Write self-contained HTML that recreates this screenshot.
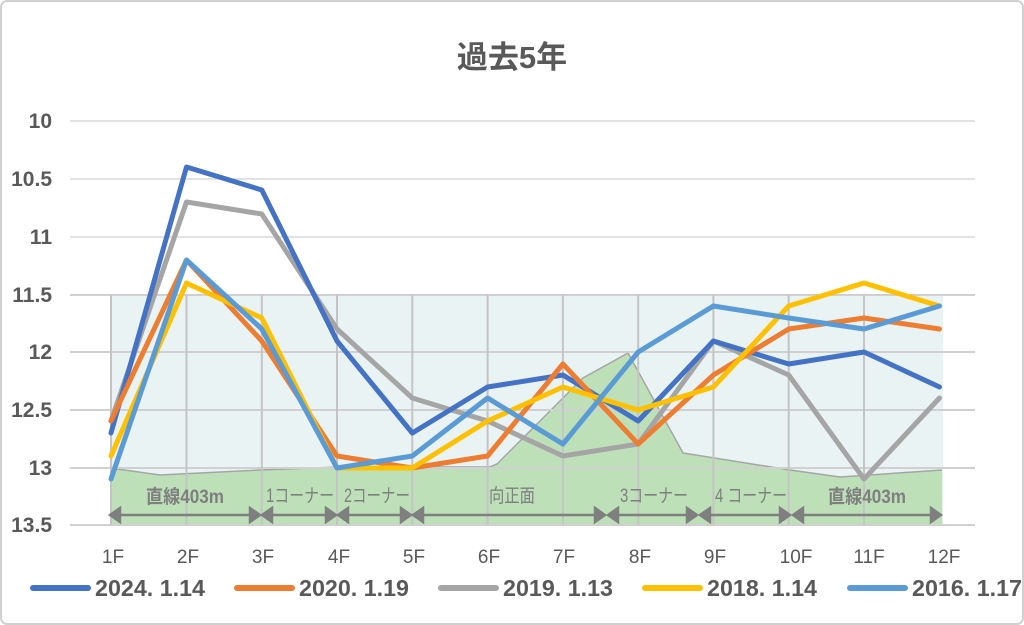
<!DOCTYPE html>
<html><head><meta charset="utf-8"><style>
html,body{margin:0;padding:0;background:#fff}
svg{display:block;font-family:"Liberation Sans","Noto Sans CJK JP",sans-serif}
</style></head><body>
<svg width="1024" height="625" viewBox="0 0 1024 625">
<rect x="1" y="1" width="1022" height="623" rx="6" fill="#fff" stroke="#d0d0d0" stroke-width="2"/>
<text x="512" y="68" text-anchor="middle" font-size="31" font-weight="bold" fill="#595959">過去5年</text>
<g stroke="#d9d9d9" stroke-width="1.5">
<line x1="70" y1="121" x2="975" y2="121"/>
<line x1="70" y1="179" x2="975" y2="179"/>
<line x1="70" y1="237" x2="975" y2="237"/>
</g>
<rect x="110" y="295" width="833" height="230" fill="#e9f3f3"/>
<polygon points="110,468 160,475 260,470 340,467 490,467 497,464 583,378 628,353 683,453 790,470 840,477 942,470 942,525 110,525" fill="#bde0b9"/>
<polyline points="110,468 160,475 260,470 340,467 490,467 497,464 583,378 628,353 683,453 790,470 840,477 942,470" fill="none" stroke="#a5a5a5" stroke-width="1.5"/>
<g stroke="#d0d0d0" stroke-width="2">
<line x1="70" y1="295" x2="975" y2="295"/>
<line x1="70" y1="352" x2="975" y2="352"/>
<line x1="70" y1="410" x2="975" y2="410"/>
<line x1="70" y1="468" x2="975" y2="468"/>
<line x1="70" y1="525" x2="975" y2="525"/>
</g>
<g stroke="#c4c4c4" stroke-width="2">
<line x1="186.5" y1="295" x2="186.5" y2="525"/><line x1="261.8" y1="295" x2="261.8" y2="525"/>
<line x1="337" y1="295" x2="337" y2="525"/><line x1="412.3" y1="295" x2="412.3" y2="525"/>
<line x1="487.6" y1="295" x2="487.6" y2="525"/><line x1="562.9" y1="295" x2="562.9" y2="525"/>
<line x1="638.2" y1="295" x2="638.2" y2="525"/><line x1="713.4" y1="295" x2="713.4" y2="525"/>
<line x1="788.7" y1="295" x2="788.7" y2="525"/><line x1="864" y1="295" x2="864" y2="525"/>
<line x1="111" y1="295" x2="111" y2="525"/>
</g>
<g stroke="#7f7f7f" stroke-width="2.5" fill="#7f7f7f">
<line x1="115" y1="515" x2="255" y2="515"/><polygon points="110,515 120,508 120,522"/><polygon points="260,515 250,508 250,522"/>
<line x1="267" y1="515" x2="331" y2="515"/><polygon points="262,515 272,508 272,522"/><polygon points="336,515 326,508 326,522"/>
<line x1="343" y1="515" x2="406" y2="515"/><polygon points="338,515 348,508 348,522"/><polygon points="411,515 401,508 401,522"/>
<line x1="418" y1="515" x2="600" y2="515"/><polygon points="413,515 423,508 423,522"/><polygon points="605,515 595,508 595,522"/>
<line x1="613" y1="515" x2="692" y2="515"/><polygon points="608,515 618,508 618,522"/><polygon points="697,515 687,508 687,522"/>
<line x1="705" y1="515" x2="785" y2="515"/><polygon points="700,515 710,508 710,522"/><polygon points="790,515 780,508 780,522"/>
<line x1="798" y1="515" x2="935" y2="515"/><polygon points="793,515 803,508 803,522"/><polygon points="941,515 931,508 931,522"/>
</g>
<g font-size="19" fill="#7f7f7f">
<text x="146" y="503" font-weight="bold" textLength="78" lengthAdjust="spacingAndGlyphs">直線403m</text>
<text x="266" y="502" textLength="68" lengthAdjust="spacingAndGlyphs">1コーナー</text>
<text x="344" y="502" textLength="66" lengthAdjust="spacingAndGlyphs">2コーナー</text>
<text x="489" y="502" textLength="46" lengthAdjust="spacingAndGlyphs">向正面</text>
<text x="620" y="502" textLength="68" lengthAdjust="spacingAndGlyphs">3コーナー</text>
<text x="715" y="502" textLength="72" lengthAdjust="spacingAndGlyphs">4 コーナー</text>
<text x="828" y="503" font-weight="bold" textLength="78" lengthAdjust="spacingAndGlyphs">直線403m</text>
</g>
<g font-size="21" font-weight="bold" fill="#595959" text-anchor="end">
<text x="52" y="128">10</text><text x="52" y="186">10.5</text><text x="52" y="244">11</text>
<text x="52" y="302">11.5</text><text x="52" y="359">12</text><text x="52" y="417">12.5</text>
<text x="52" y="475">13</text><text x="52" y="532">13.5</text>
</g>
<g font-size="19" fill="#595959" text-anchor="middle">
<text x="113" y="563">1F</text><text x="188" y="563">2F</text><text x="263" y="563">3F</text>
<text x="339" y="563">4F</text><text x="414" y="563">5F</text><text x="489" y="563">6F</text>
<text x="564" y="563">7F</text><text x="640" y="563">8F</text><text x="715" y="563">9F</text>
<text x="796" y="563">10F</text><text x="869" y="563">11F</text><text x="944" y="563">12F</text>
</g>
<g fill="none" stroke-width="5" stroke-linejoin="round" stroke-linecap="round">
<polyline stroke="#A5A5A5" points="111,421 186.5,202 261.8,214 337,329 412.3,398 487.6,421 562.9,456 638.2,444 713.4,341 788.7,375 864,479 939.5,398"/>
<polyline stroke="#4472C4" points="111,433 186.5,167 261.8,190 337,341 412.3,433 487.6,387 562.9,375 638.2,421 713.4,341 788.7,364 864,352 939.5,387"/>
<polyline stroke="#ED7D31" points="111,421 186.5,260 261.8,341 337,456 412.3,468 487.6,456 562.9,364 638.2,444 713.4,375 788.7,329 864,318 939.5,329"/>
<polyline stroke="#FFC000" points="111,456 186.5,283 261.8,318 337,468 412.3,468 487.6,421 562.9,387 638.2,410 713.4,387 788.7,306 864,283 939.5,306"/>
<polyline stroke="#5B9BD5" points="111,479 186.5,260 261.8,329 337,468 412.3,456 487.6,398 562.9,444 638.2,352 713.4,306 788.7,318 864,329 939.5,306"/>
</g>
<g stroke-width="6" stroke-linecap="round">
<line x1="33" y1="588" x2="88" y2="588" stroke="#4472C4"/>
<line x1="237" y1="588" x2="292" y2="588" stroke="#ED7D31"/>
<line x1="441" y1="588" x2="496" y2="588" stroke="#A5A5A5"/>
<line x1="645" y1="588" x2="700" y2="588" stroke="#FFC000"/>
<line x1="850" y1="588" x2="905" y2="588" stroke="#5B9BD5"/>
</g>
<g font-size="23" font-weight="bold" fill="#595959">
<text x="95" y="596" textLength="110" lengthAdjust="spacingAndGlyphs">2024. 1.14</text>
<text x="299" y="596" textLength="110" lengthAdjust="spacingAndGlyphs">2020. 1.19</text>
<text x="503" y="596" textLength="110" lengthAdjust="spacingAndGlyphs">2019. 1.13</text>
<text x="707" y="596" textLength="110" lengthAdjust="spacingAndGlyphs">2018. 1.14</text>
<text x="912" y="596" textLength="110" lengthAdjust="spacingAndGlyphs">2016. 1.17</text>
</g>
</svg>
</body></html>
